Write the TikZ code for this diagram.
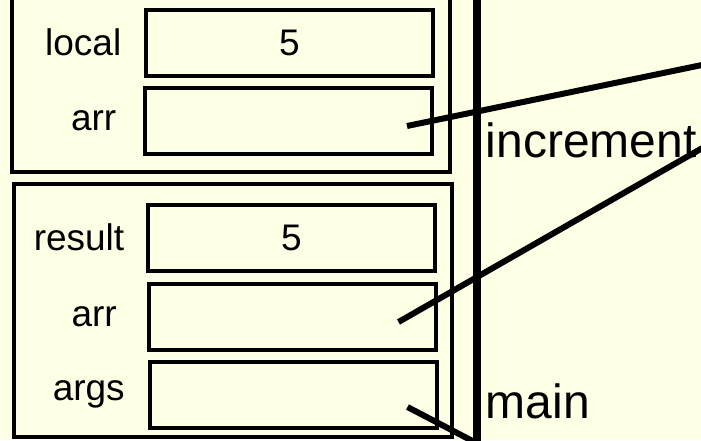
\documentclass[tikz,border=0pt]{standalone}
\usepackage{fontspec}
\setmainfont{Liberation Sans}
\usetikzlibrary{positioning,calc}

\definecolor{paper}{RGB}{255,255,229}

\tikzset{every picture/.style={line width=0.75pt}}
\tikzset{
  frame/.style={line width=2pt},
  slot/.style={draw, line width=2pt, minimum width=143.5pt, minimum height=33pt, inner sep=0pt, font=\fontsize{18.5}{22}\selectfont},
  varname/.style={inner sep=0pt, font=\fontsize{18.5}{22}\selectfont},
  framename/.style={anchor=base west, inner sep=0pt, font=\fontsize{24}{28}\selectfont},
  divider/.style={line width=4pt},
  ref/.style={line width=3pt}
}

\begin{document}
\begin{tikzpicture}[x=0.5pt,y=0.5pt,yscale=-1,xscale=1]
\useasboundingbox (0,0) rectangle (701,440);
\fill[paper] (0,0) rectangle (701,440);
\clip (0,0) rectangle (701,440);

%Shape: Rectangle (frame of increment)
\draw[frame] (12,-10) rectangle (450,172);
%Shape: Rectangle (frame of main)
\draw[frame] (14,184) rectangle (452,437);

%Slots
\node[slot] (local) at (289.5,42.5) {5};
\node[slot] (incarr) at (288.5,121) {};
\node[slot] (result) at (291.5,237.5) {5};
\node[slot] (mainarr) at (292,317) {};
\node[slot] (args) at (293,394.5) {};

% Text Node
\node[varname, left=11pt of local] (locallbl) {local};
% Text Node
\node[varname, left=13pt of incarr] (incarrlbl) {arr};
% Text Node
\node[varname, left=10.5pt of result] (resultlbl) {result};
% Text Node
\node[varname, left=14.5pt of mainarr] (mainarrlbl) {arr};
% Text Node
\node[varname, left=11pt of args] (argslbl) {args};

%Straight Lines (stack divider)
\coordinate (divtop) at (477,-10);
\coordinate (divbot) at (477,450);
\draw[divider] (divtop) -- (divbot);

% Text Node
\node[framename] (incname) at (485,157) {increment};
% Text Node
\node[framename] (mainname) at (485,418) {main};

%Straight Lines (references into the heap)
\coordinate (heapa) at (760,53);
\coordinate (heapb) at (760,115);
\coordinate (heapc) at (528,470);
\draw[ref] ($(incarr.east)+(-27,5)$) -- (heapa);
\draw[ref] ($(mainarr.east)+(-39,5)$) -- (heapb);
\draw[ref] ($(args.east)+(-31,12.5)$) -- (heapc);

\end{tikzpicture}
\end{document}
